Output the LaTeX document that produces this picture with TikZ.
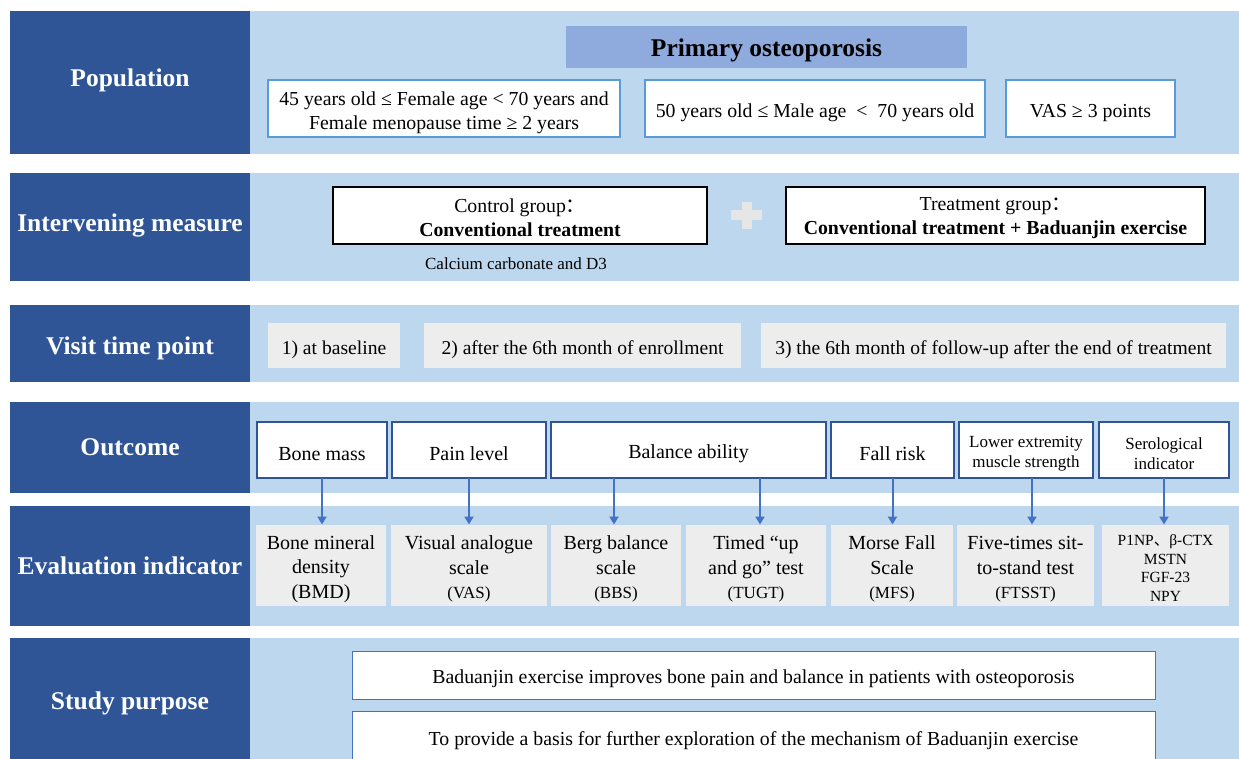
\documentclass[tikz,border=0pt]{standalone}
\usepackage{fontspec}
\setmainfont{Liberation Serif}
\newfontfamily\cjk{Noto Sans CJK SC}
\usetikzlibrary{positioning,arrows.meta}

\definecolor{darkblue}{HTML}{2F5597}
\definecolor{paleblue}{HTML}{BDD7EE}
\definecolor{midblue}{HTML}{8FAADC}
\definecolor{lineblue}{HTML}{5B9BD5}
\definecolor{arrowblue}{HTML}{4472C4}
\definecolor{boxgray}{HTML}{EDEDED}
\definecolor{plusgray}{HTML}{E7E6E6}

% taller first line, so that the text sits a little lower in its box
\newcommand\tstrut{\rule{0pt}{1.1em}}

\begin{document}
\begin{tikzpicture}[x=1pt,y=-1pt,
    rowlabel/.style={rectangle,fill=darkblue,text=white,minimum width=240pt,inner sep=0pt,outer sep=0pt,
      font=\fontsize{25.5}{30}\selectfont\bfseries},
    panel/.style={rectangle,fill=paleblue,minimum width=989pt,inner sep=0pt,outer sep=0pt},
    popbox/.style={rectangle,draw=lineblue,line width=1.2pt,fill=white,align=center,minimum height=57pt,
      inner sep=2pt,outer sep=0pt,font=\fontsize{19.8}{24}\selectfont,execute at begin node=\tstrut},
    groupbox/.style={rectangle,draw=black,line width=1.2pt,fill=white,align=center,minimum height=57pt,
      inner sep=2pt,outer sep=0pt,font=\fontsize{19.8}{24}\selectfont},
    visitbox/.style={rectangle,fill=boxgray,minimum height=45pt,inner sep=2pt,outer sep=0pt,
      font=\fontsize{19.6}{24}\selectfont,execute at begin node=\tstrut},
    outbox/.style={rectangle,draw=darkblue,line width=1.2pt,fill=white,align=center,minimum height=56pt,
      inner sep=1pt,outer sep=0pt,font=\fontsize{20}{24}\selectfont,execute at begin node=\tstrut},
    evalbox/.style={rectangle,fill=boxgray,align=center,minimum height=81pt,inner sep=1pt,outer sep=0pt,
      font=\fontsize{20}{24.5}\selectfont},
    purposebox/.style={rectangle,draw=arrowblue,line width=1pt,fill=white,minimum width=803pt,
      inner sep=2pt,outer sep=0pt,font=\fontsize{19.8}{24}\selectfont,execute at begin node=\tstrut}]
  \useasboundingbox (0,0) rectangle (1239,759);

  % row labels and their panels
  \node[rowlabel,minimum height=143pt] (pop) at (130,82.5) {\rule[-0.38em]{0pt}{0.38em}Population};
  \node[panel,minimum height=143pt,right=0pt of pop] (popp) {};
  \node[rowlabel,minimum height=108pt] (interv) at (130,227) {\rule[-0.38em]{0pt}{0.38em}Intervening measure};
  \node[panel,minimum height=108pt,right=0pt of interv] (intervp) {};
  \node[rowlabel,minimum height=77pt] (visit) at (130,343.5) {\rule{0pt}{1.08em}Visit time point};
  \node[panel,minimum height=77pt,right=0pt of visit] (visitp) {};
  \node[rowlabel,minimum height=91pt] (outc) at (130,447.5) {Outcome};
  \node[panel,minimum height=91pt,right=0pt of outc] (outcp) {};
  \node[rowlabel,minimum height=120pt] (evalu) at (130,566) {Evaluation indicator};
  \node[panel,minimum height=120pt,right=0pt of evalu] (evalup) {};
  \node[rowlabel,minimum height=124pt] (purp) at (130,700) {\rule{0pt}{0.93em}Study purpose};
  \node[panel,minimum height=124pt,right=0pt of purp] (purpp) {};

  % population
  \node[fill=midblue,minimum width=401pt,minimum height=42pt,font=\fontsize{25.5}{30}\selectfont\bfseries]
    (prim) at (766.5,47) {\rule{0pt}{0.95em}Primary osteoporosis};
  \node[popbox,minimum width=352pt] (female) at (444,108.5)
    {\tstrut 45 years old ≤ Female age < 70 years and\\Female menopause time ≥ 2 years};
  \node[popbox,minimum width=340pt,right=25pt of female] (male) {50 years old ≤ Male age~~<~~70 years old};
  \node[popbox,minimum width=169pt,right=21pt of male] (vas) {VAS ≥ 3 points};

  % intervening measure
  \node[groupbox,minimum width=374pt] (ctrl) at (520,215.5)
    {\rule{0pt}{0.95em}Control group{\cjk ：}\\\textbf{Conventional treatment}};
  \node[groupbox,minimum width=419pt,right=79pt of ctrl] (treat)
    {\rule{0pt}{0.95em}Treatment group{\cjk ：}\\\textbf{Conventional treatment + Baduanjin exercise}};
  \path (ctrl.east) -- (treat.west) node[pos=.5] (plus) {};
  \fill[plusgray] ([xshift=-15.5pt,yshift=-5pt]plus.center) rectangle ([xshift=15.5pt,yshift=5pt]plus.center);
  \fill[plusgray] ([xshift=-5pt,yshift=-13.5pt]plus.center) rectangle ([xshift=5pt,yshift=13.5pt]plus.center);
  \node[font=\fontsize{17}{20}\selectfont] (calc) at (516,264) {Calcium carbonate and D3};

  % visit time point
  \node[visitbox,minimum width=132pt] (v1) at (334,345.5) {1) at baseline};
  \node[visitbox,minimum width=317pt,right=24pt of v1] (v2) {2) after the 6th month of enrollment};
  \node[visitbox,minimum width=465pt,right=20pt of v2] (v3) {3) the 6th month of follow-up after the end of treatment};

  % outcome
  \node[outbox,minimum width=130pt] (bone) at (322,450) {Bone mass};
  \node[outbox,minimum width=154pt,right=5pt of bone] (pain) {Pain level};
  \node[outbox,minimum width=275pt,right=5pt of pain] (bal) {Balance ability};
  \node[outbox,minimum width=123pt,right=5pt of bal] (fall) {Fall risk};
  \node[outbox,minimum width=134pt,right=5pt of fall,font=\fontsize{17}{20.5}\selectfont] (lower)
    {\tstrut Lower extremity\\muscle strength};
  \node[outbox,minimum width=130pt,right=6pt of lower,font=\fontsize{17}{20.5}\selectfont] (sero)
    {\tstrut Serological\\indicator};

  % evaluation indicator
  \node[evalbox,minimum width=130pt] (bmd) at (321,565) {\tstrut Bone mineral\\density\\(BMD)};
  \node[evalbox,minimum width=156pt,right=5pt of bmd] (vasi)
    {\tstrut Visual analogue\\scale\\{\fontsize{17}{20}\selectfont (VAS)}};
  \node[evalbox,minimum width=130pt,right=4pt of vasi] (bbs)
    {\tstrut Berg balance\\scale\\{\fontsize{17}{20}\selectfont (BBS)}};
  \node[evalbox,minimum width=140pt,right=5pt of bbs] (tugt)
    {\tstrut Timed “up\\and go” test\\{\fontsize{17}{20}\selectfont (TUGT)}};
  \node[evalbox,minimum width=122pt,right=5pt of tugt] (mfs)
    {\tstrut Morse Fall\\Scale\\{\fontsize{17}{20}\selectfont (MFS)}};
  \node[evalbox,minimum width=137pt,right=4pt of mfs] (ftsst)
    {\tstrut Five-times sit-\\to-stand test\\{\fontsize{17}{20}\selectfont (FTSST)}};
  \node[evalbox,minimum width=127pt,right=8pt of ftsst,font=\fontsize{15.5}{18.5}\selectfont] (serum)
    {\tstrut P1NP{\cjk 、}β-CTX\\MSTN\\FGF-23\\NPY};

  \begin{scope}[arrowblue,line width=2pt,-{Triangle[length=8pt,width=9pt]}]
    \draw (bone.south) -- (bone.south |- bmd.north);
    \draw (pain.south) -- (pain.south |- vasi.north);
    \draw ([xshift=-2pt]bal.south -| bbs.north) -- ([xshift=-2pt]bbs.north);
    \draw ([xshift=4pt]bal.south -| tugt.north) -- ([xshift=4pt]tugt.north);
    \draw (fall.south) -- (fall.south |- mfs.north);
    \draw ([xshift=6pt]lower.south) -- ([xshift=6pt]lower.south |- ftsst.north);
    \draw (sero.south) -- (sero.south |- serum.north);
  \end{scope}

  % study purpose
  \node[purposebox,minimum height=48pt] (aim1) at (753.5,675)
    {Baduanjin exercise improves bone pain and balance in patients with osteoporosis};
  \node[purposebox,minimum height=52pt,below=12pt of aim1] (aim2)
    {To provide a basis for further exploration of the mechanism of Baduanjin exercise};
\end{tikzpicture}
\end{document}
